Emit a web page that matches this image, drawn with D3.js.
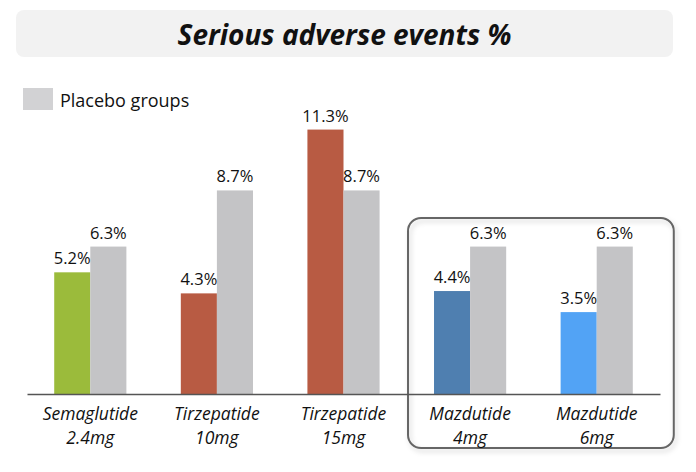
<!DOCTYPE html>
<html>
<head>
<meta charset="utf-8">
<script src="https://cdn.jsdelivr.net/npm/d3@7"></script>
<style>
  html, body { margin: 0; padding: 0; background: #fff; }
  svg { display: block; }
</style>
</head>
<body>
<svg id="chart" width="696" height="472"></svg>
<script>
// Serious adverse events (%) per treatment arm vs. its placebo group
const drugLines = [["Semaglutide", "2.4mg"], ["Tirzepatide", "10mg"], ["Tirzepatide", "15mg"], ["Mazdutide", "4mg"], ["Mazdutide", "6mg"]];
const categories = drugLines.map(d => d.join(" "));
const treatmentValues = [5.2, 4.3, 11.3, 4.4, 3.5];
const placeboValues = [6.3, 8.7, 8.7, 6.3, 6.3];
const treatmentColors = ["#9bbb3b", "#b85b43", "#b85b43", "#4f7fb0", "#52a3f5"];
const placeboColor = "#c4c4c6";
const highlighted = ["Mazdutide 4mg", "Mazdutide 6mg"];

const svg = d3.select("#chart");
const font = "'Open Sans', Lato, sans-serif";

const x = d3.scaleBand().domain(categories).range([27, 660]).paddingInner(0.43).paddingOuter(0.215);
const y = d3.scaleLinear().domain([0, 12]).range([394, 113.2]);

const defs = svg.append("defs");
const sh = defs.append("filter").attr("id", "shadow").attr("x", "-10%").attr("y", "-10%").attr("width", "125%").attr("height", "125%");
sh.append("feDropShadow").attr("dx", 2).attr("dy", 3).attr("stdDeviation", 2.5).attr("flood-color", "#000").attr("flood-opacity", 0.18);

// Title banner
svg.append("rect").attr("x", 16).attr("y", 10).attr("width", 657).attr("height", 47)
  .attr("rx", 8).attr("fill", "#f2f2f2");
svg.append("text").attr("x", 344.5).attr("y", 44.5).attr("text-anchor", "middle")
  .attr("font-family", font).attr("font-size", 28).attr("font-weight", 700).attr("font-style", "italic")
  .attr("fill", "#111").text("Serious adverse events %");

// Legend
svg.append("rect").attr("x", 23).attr("y", 88).attr("width", 30).attr("height", 22).attr("fill", "#d2d2d4");
svg.append("text").attr("x", 60).attr("y", 106.5).attr("font-family", font).attr("font-size", 18)
  .attr("fill", "#111").text("Placebo groups");

// Highlight frame around the mazdutide arms
const hx0 = x(highlighted[0]) - 26, hx1 = x(highlighted[1]) + x.bandwidth() + 41;
svg.append("rect").attr("x", hx0).attr("y", 218).attr("width", hx1 - hx0).attr("height", 230)
  .attr("rx", 13).attr("fill", "none").attr("stroke", "#666").attr("stroke-width", 2)
  .attr("filter", "url(#shadow)");

const half = x.bandwidth() / 2;
const g = svg.append("g");

// Treatment bars
g.selectAll("rect.treat").data(categories).join("rect").attr("class", "treat")
  .attr("x", d => x(d)).attr("width", half)
  .attr("y", (d, i) => y(treatmentValues[i])).attr("height", (d, i) => y(0) - y(treatmentValues[i]))
  .attr("fill", (d, i) => treatmentColors[i]);

// Placebo bars
g.selectAll("rect.plac").data(categories).join("rect").attr("class", "plac")
  .attr("x", d => x(d) + half).attr("width", half)
  .attr("y", (d, i) => y(placeboValues[i])).attr("height", (d, i) => y(0) - y(placeboValues[i]))
  .attr("fill", placeboColor);

// Value labels
const fmt = v => v.toFixed(1) + "%";
g.selectAll("text.tl").data(categories).join("text").attr("class", "tl")
  .attr("x", d => x(d) + half / 2).attr("y", (d, i) => y(treatmentValues[i]) - 8)
  .attr("text-anchor", "middle").attr("font-family", font).attr("font-size", 16.5).attr("fill", "#111")
  .text((d, i) => fmt(treatmentValues[i]));
g.selectAll("text.pl").data(categories).join("text").attr("class", "pl")
  .attr("x", d => x(d) + half * 1.5).attr("y", (d, i) => y(placeboValues[i]) - 8)
  .attr("text-anchor", "middle").attr("font-family", font).attr("font-size", 16.5).attr("fill", "#111")
  .text((d, i) => fmt(placeboValues[i]));

// Baseline axis with two-line category labels
const axis = svg.append("g").attr("transform", `translate(0,${y(0)})`)
  .call(d3.axisBottom(x).tickSize(0).tickFormat(""));
axis.select(".domain").attr("stroke", "#555").attr("stroke-width", 1.5);
axis.selectAll(".tick text").remove();
axis.selectAll(".tick").each(function(d, i) {
  const t = d3.select(this).append("text").attr("fill", "#111").attr("text-anchor", "middle")
    .attr("font-family", font).attr("font-size", 17.5).attr("font-style", "italic");
  t.append("tspan").attr("x", 0).attr("y", 26).text(drugLines[i][0]);
  t.append("tspan").attr("x", 0).attr("y", 50).text(drugLines[i][1]);
});
</script>
</body>
</html>
